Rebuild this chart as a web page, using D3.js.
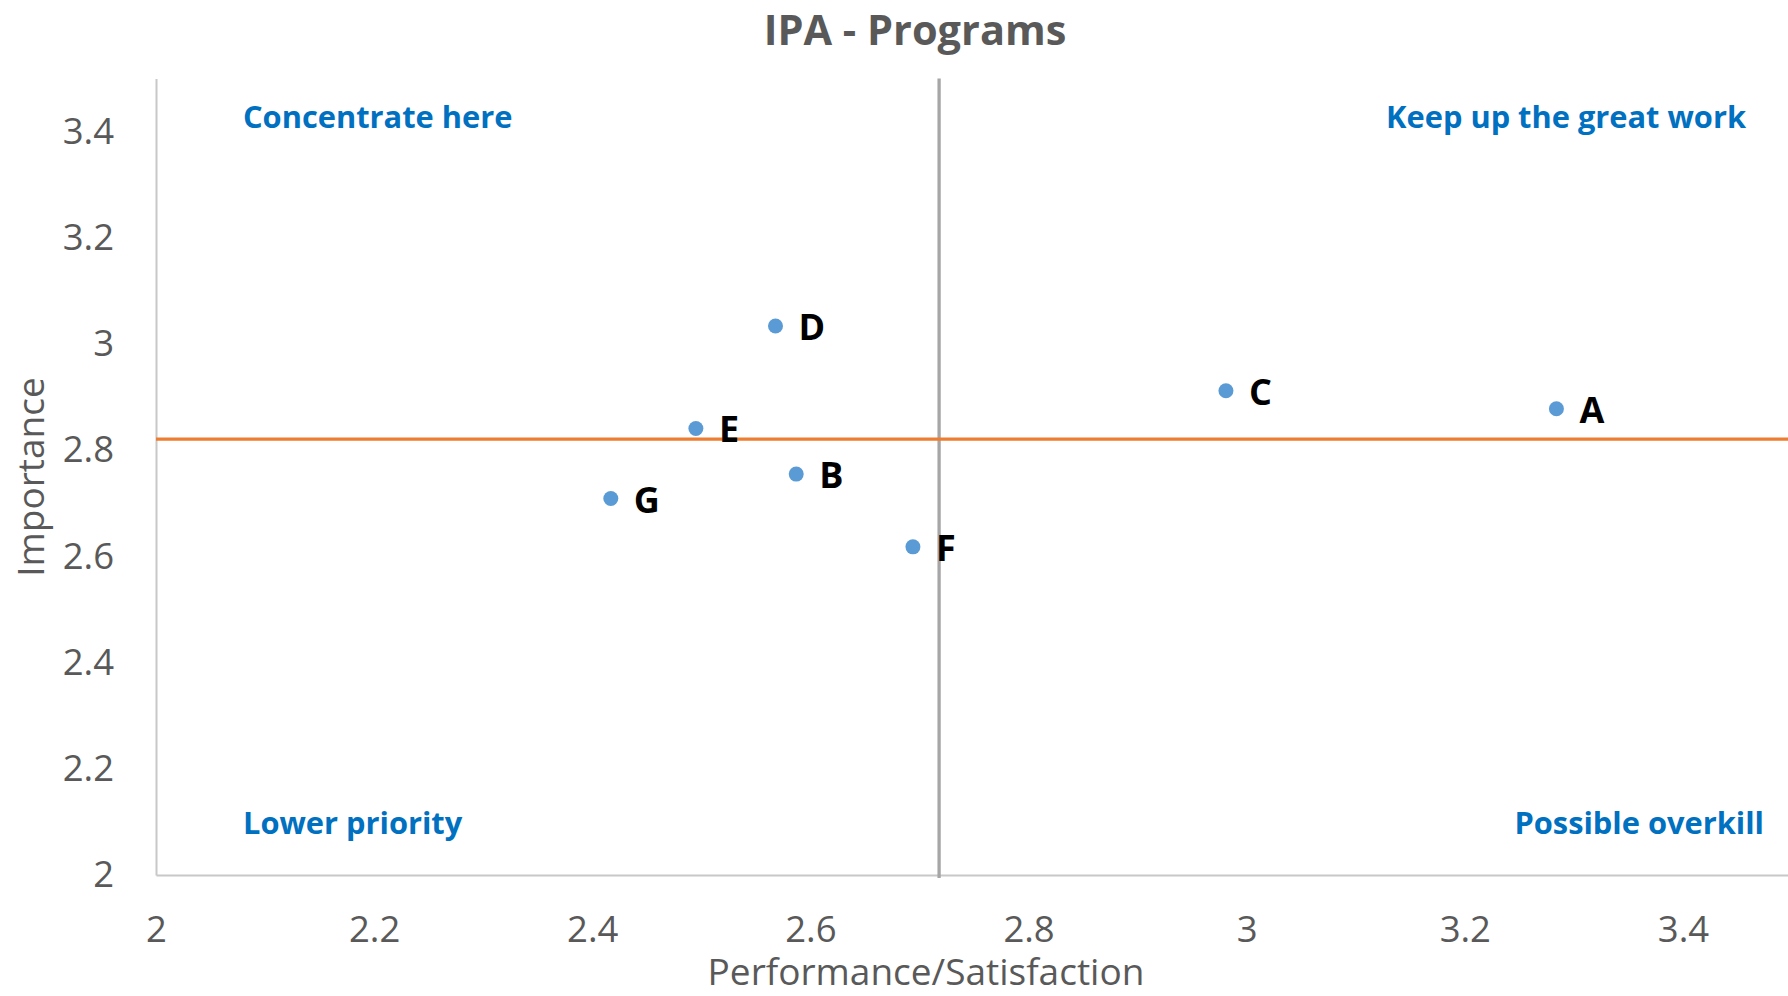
<!DOCTYPE html>
<html>
<head>
<meta charset="utf-8">
<script src="https://cdn.jsdelivr.net/npm/d3@7"></script>
<style>
  html, body { margin: 0; padding: 0; background: #fff; }
  svg { display: block; }
</style>
</head>
<body>
<svg id="chart" width="1788" height="996"></svg>
<script>
// ---- data ----
const labels = ["A", "B", "C", "D", "E", "F", "G"];
const performance = [3.284, 2.587, 2.981, 2.568, 2.495, 2.694, 2.417];
const importance = [2.878, 2.755, 2.912, 3.034, 2.841, 2.618, 2.709];
const xTicks = [2, 2.2, 2.4, 2.6, 2.8, 3, 3.2, 3.4];
const yTicks = [2, 2.2, 2.4, 2.6, 2.8, 3, 3.2, 3.4];
const quadrantLabels = ["Concentrate here", "Keep up the great work", "Lower priority", "Possible overkill"];
const titleText = "IPA - Programs";
const xTitle = "Performance/Satisfaction";
const yTitle = "Importance";

(function () {
// ---- layout ----
const mLeft = 156, mRight = 1792, mTop = 78.5, mBottom = 875;
const font = "'Open Sans', 'Noto Sans', sans-serif";

const svg = d3.select("#chart");
const x = d3.scaleLinear().domain([2, 3.5]).range([mLeft, mRight]);
const y = d3.scaleLinear().domain([2, 3.5]).range([mBottom, mTop]);

const pts = labels.map((l, i) => ({ label: l, x: performance[i], y: importance[i] }));
const meanX = d3.mean(performance);
const meanY = d3.mean(importance);

// title
svg.append("text")
  .attr("x", 915).attr("y", 45)
  .attr("text-anchor", "middle")
  .attr("font-family", font).attr("font-weight", 700)
  .attr("font-size", 41.5).attr("fill", "#595959")
  .text(titleText);

// axes (lines only, no ticks)
const xAxis = svg.append("g").attr("transform", `translate(0,${mBottom})`)
  .call(d3.axisBottom(x).tickValues(xTicks).tickSize(0).tickPadding(41).tickFormat(d3.format("")));
const yAxis = svg.append("g").attr("transform", `translate(${mLeft},0)`)
  .call(d3.axisLeft(y).tickValues(yTicks).tickSize(0).tickPadding(42).tickFormat(d3.format("")));
[xAxis, yAxis].forEach(g => {
  g.select(".domain").attr("stroke", "#C8C8C8").attr("stroke-width", 2);
  g.selectAll("text").attr("font-family", font).attr("font-size", 36.5).attr("fill", "#595959");
});
xAxis.selectAll("text").attr("dy", "0.72em");

// axis titles
svg.append("text")
  .attr("x", 926).attr("y", 985)
  .attr("text-anchor", "middle")
  .attr("font-family", font).attr("font-size", 37).attr("fill", "#595959")
  .text(xTitle);
svg.append("text")
  .attr("transform", `translate(44,477) rotate(-90)`)
  .attr("text-anchor", "middle")
  .attr("font-family", font).attr("font-size", 37).attr("fill", "#595959")
  .text(yTitle);

// reference lines at the means
svg.append("line")
  .attr("x1", x(meanX)).attr("x2", x(meanX))
  .attr("y1", y(3.5)).attr("y2", y(2) + 3)
  .attr("stroke", "#A6A6A6").attr("stroke-width", 3.3);
svg.append("line")
  .attr("x1", x(2)).attr("x2", x(3.5))
  .attr("y1", y(meanY)).attr("y2", y(meanY))
  .attr("stroke", "#ED7D31").attr("stroke-width", 3.3);

// quadrant labels
const qpos = [
  { anchor: "start", x: 243, y: 128 },
  { anchor: "end", x: 1746, y: 128 },
  { anchor: "start", x: 243, y: 834 },
  { anchor: "end", x: 1764, y: 834 }
];
svg.selectAll("text.quad").data(quadrantLabels).enter().append("text")
  .attr("class", "quad")
  .attr("x", (d, i) => qpos[i].x).attr("y", (d, i) => qpos[i].y)
  .attr("text-anchor", (d, i) => qpos[i].anchor)
  .attr("font-family", font).attr("font-weight", 700)
  .attr("font-size", 30.8).attr("fill", "#0070C0")
  .text(d => d);

// points
svg.selectAll("circle.pt").data(pts).enter().append("circle")
  .attr("class", "pt")
  .attr("cx", d => x(d.x)).attr("cy", d => y(d.y))
  .attr("r", 7.5).attr("fill", "#5B9BD5");

// data labels
svg.selectAll("text.lbl").data(pts).enter().append("text")
  .attr("class", "lbl")
  .attr("x", d => x(d.x) + 23).attr("y", d => y(d.y) + 14)
  .attr("font-family", font).attr("font-weight", 700)
  .attr("font-size", 36).attr("fill", "#000")
  .text(d => d.label);
})();
</script>
</body>
</html>
